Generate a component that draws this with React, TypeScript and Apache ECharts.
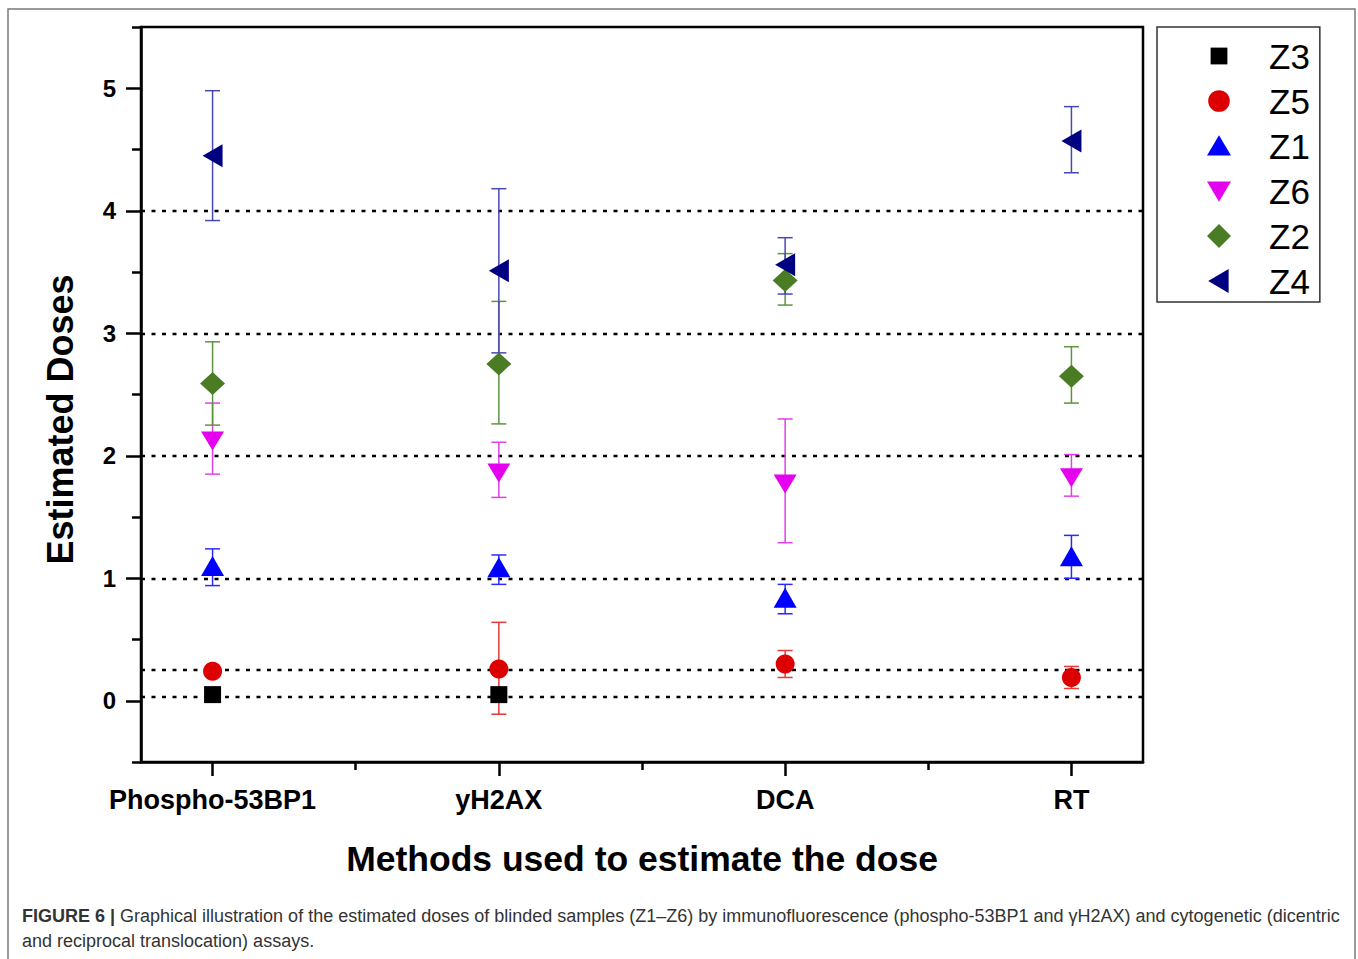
import React, { useEffect, useRef } from "react";
import * as echarts from "echarts";

const methods = ["Phospho-53BP1", "yH2AX", "DCA", "RT"];
const methodPositions = [1, 2, 3, 4];
const betweenPositions = [1.5, 2.5, 3.5];
const yMajorTicks = [0, 1, 2, 3, 4, 5];
const yMinorTicks = [-0.5, 0.5, 1.5, 2.5, 3.5, 4.5, 5.5];
const referenceDoses = [0.03, 0.25, 1, 2, 3, 4];

// Estimated doses per sample (per method), with error-bar bounds
const z3Dose = [0.05, 0.05, null, null];
const z3Low = [null, null, null, null];
const z3High = [null, null, null, null];

const z5Dose = [0.24, 0.26, 0.3, 0.19];
const z5Low = [null, -0.11, 0.19, 0.1];
const z5High = [null, 0.64, 0.41, 0.28];

const z1Dose = [1.1, 1.09, 0.84, 1.18];
const z1Low = [0.94, 0.95, 0.71, 1.0];
const z1High = [1.24, 1.19, 0.95, 1.35];

const z6Dose = [2.12, 1.86, 1.77, 1.82];
const z6Low = [1.85, 1.66, 1.29, 1.67];
const z6High = [2.43, 2.11, 2.3, 2.01];

const z2Dose = [2.59, 2.75, 3.43, 2.65];
const z2Low = [2.25, 2.26, 3.23, 2.43];
const z2High = [2.93, 3.26, 3.65, 2.89];

const z4Dose = [4.45, 3.51, 3.56, 4.57];
const z4Low = [3.92, 2.84, 3.32, 4.31];
const z4High = [4.98, 4.18, 3.78, 4.85];

const samples = [
  { name: "Z3", dose: z3Dose, low: z3Low, high: z3High, color: "#000000", bar: "#000000", symbol: "rect", size: [17, 17], rotate: 0,
    icon: "path://M0,0M20,20M3,3H17V17H3Z" },
  { name: "Z5", dose: z5Dose, low: z5Low, high: z5High, color: "#dd0000", bar: "#e23a3a", symbol: "circle", size: [19, 19], rotate: 0,
    icon: "path://M0,0M20,20M1,10A9,9,0,1,1,19,10A9,9,0,1,1,1,10Z" },
  { name: "Z1", dose: z1Dose, low: z1Low, high: z1High, color: "#0000ff", bar: "#2a2aff", symbol: "triangle", size: [23, 20], rotate: 0,
    icon: "path://M0,0M20,20M10,1L20,18L0,18Z" },
  { name: "Z6", dose: z6Dose, low: z6Low, high: z6High, color: "#e600f0", bar: "#e040e8", symbol: "triangle", size: [23, 19], rotate: 180,
    icon: "path://M0,0M20,20M0,2L20,2L10,19Z" },
  { name: "Z2", dose: z2Dose, low: z2Low, high: z2High, color: "#4a7d23", bar: "#5e9440", symbol: "diamond", size: [25, 23], rotate: 0,
    icon: "path://M10,0L20,10L10,20L0,10Z" },
  { name: "Z4", dose: z4Dose, low: z4Low, high: z4High, color: "#000080", bar: "#4848b4", symbol: "triangle", size: [23, 20], rotate: 90,
    icon: "path://M0,0M20,20M1,10L18,0L18,20Z" },
];

const FONT = "'Liberation Sans', Arial, Helvetica, sans-serif";

export default function App() {
  const ref = useRef<HTMLDivElement>(null);

  useEffect(() => {
    if (!ref.current) return;
    const chart = echarts.init(ref.current, undefined, { renderer: "svg" });

    const errorSeries: any[] = samples.map((s) => ({
      type: "custom",
      name: s.name + " err",
      z: 2,
      silent: true,
      encode: { x: 0, y: [1, 2] },
      data: methodPositions
        .map((x, i) => (s.low[i] != null && s.high[i] != null ? [x, s.low[i], s.high[i]] : null))
        .filter((d) => d != null),
      renderItem: (params: any, api: any) => {
        const x = api.value(0);
        const lo = api.coord([x, api.value(1)]);
        const hi = api.coord([x, api.value(2)]);
        const half = 7.5;
        const style = { stroke: s.bar, lineWidth: 1.5 };
        return {
          type: "group",
          children: [
            { type: "line", shape: { x1: lo[0], y1: lo[1], x2: hi[0], y2: hi[1] }, style },
            { type: "line", shape: { x1: lo[0] - half, y1: lo[1], x2: lo[0] + half, y2: lo[1] }, style },
            { type: "line", shape: { x1: hi[0] - half, y1: hi[1], x2: hi[0] + half, y2: hi[1] }, style },
          ],
        };
      },
    }));

    const pointSeries: any[] = samples.map((s, idx) => {
      const ser: any = {
        type: "scatter",
        name: s.name,
        z: 3,
        symbol: s.symbol,
        symbolSize: s.size,
        symbolRotate: s.rotate,
        itemStyle: { color: s.color, opacity: 1 },
        data: methodPositions
          .map((x, i) => (s.dose[i] != null ? [x, s.dose[i]] : null))
          .filter((d) => d != null),
      };
      if (idx === 0) {
        ser.markLine = {
          silent: true,
          symbol: ["none", "none"],
          label: { show: false },
          lineStyle: { color: "#000", type: [4, 6.5], width: 2.4 },
          data: referenceDoses.map((v) => ({ yAxis: v })),
          z: 1,
        };
      }
      return ser;
    });

    const option: any = {
      animation: false,
      backgroundColor: "#ffffff",
      textStyle: { fontFamily: FONT },
      grid: {
        left: 141,
        right: 215,
        top: 27,
        bottom: 197,
        show: true,
        borderColor: "#000",
        borderWidth: 2.5,
        backgroundColor: "transparent",
      },
      legend: {
        orient: "vertical",
        left: 1157,
        top: 27,
        padding: [9, 10, 1, 50],
        itemWidth: 90,
        itemHeight: 24,
        itemGap: 5,
        symbolKeepAspect: true,
        borderColor: "#333",
        borderWidth: 1.5,
        backgroundColor: "#fff",
        data: samples.map((s) => ({ name: s.name, icon: s.icon })),
        textStyle: { fontFamily: FONT, fontSize: 35, color: "#000", lineHeight: 40 },
      },
      xAxis: [
        {
          type: "value",
          min: 0.75,
          max: 4.25,
          position: "bottom",
          name: "Methods used to estimate the dose",
          nameLocation: "middle",
          nameGap: 79,
          nameTextStyle: { fontFamily: FONT, fontSize: 35.5, fontWeight: "bold", color: "#000" },
          axisLine: { show: true, onZero: false, lineStyle: { color: "#000", width: 2.5 } },
          axisTick: { show: true, customValues: methodPositions, length: 14, lineStyle: { color: "#000", width: 2.5 } },
          axisLabel: {
            show: true,
            customValues: methodPositions,
            formatter: (v: number) => methods[Math.round(v) - 1] ?? "",
            margin: 24,
            fontFamily: FONT,
            fontSize: 27,
            fontWeight: "bold",
            color: "#000",
          },
          splitLine: { show: false },
        },
        {
          type: "value",
          min: 0.75,
          max: 4.25,
          position: "bottom",
          axisLine: { show: false, onZero: false },
          axisTick: { show: true, customValues: betweenPositions, length: 8, lineStyle: { color: "#000", width: 2.5 } },
          axisLabel: { show: false },
          splitLine: { show: false },
        },
      ],
      yAxis: [
        {
          type: "value",
          min: -0.5,
          max: 5.5,
          position: "left",
          name: "Estimated Doses",
          nameLocation: "middle",
          nameGap: 63,
          nameTextStyle: { fontFamily: FONT, fontSize: 36, fontWeight: "bold", color: "#000", padding: [0, 50, 0, 0] },
          axisLine: { show: true, onZero: false, lineStyle: { color: "#000", width: 2.5 } },
          axisTick: { show: true, customValues: yMajorTicks, length: 15, lineStyle: { color: "#000", width: 2.5 } },
          axisLabel: {
            show: true,
            customValues: yMajorTicks,
            margin: 25,
            fontFamily: FONT,
            fontSize: 24,
            fontWeight: "bold",
            color: "#000",
          },
          splitLine: { show: false },
        },
        {
          type: "value",
          min: -0.5,
          max: 5.5,
          position: "left",
          axisLine: { show: false, onZero: false },
          axisTick: { show: true, customValues: yMinorTicks, length: 9, lineStyle: { color: "#000", width: 2.5 } },
          axisLabel: { show: false },
          splitLine: { show: false },
        },
      ],
      graphic: [
        {
          type: "rect",
          shape: { x: 8, y: 9, width: 1347, height: 970 },
          style: { fill: "none", stroke: "#7a7a7a", lineWidth: 1.5 },
          silent: true,
          z: -10,
        },
        {
          type: "text",
          x: 22,
          y: 916,
          style: {
            text: "{b|FIGURE 6 |} Graphical illustration of the estimated doses of blinded samples (Z1–Z6) by immunofluorescence (phospho-53BP1 and γH2AX) and cytogenetic (dicentric",
            fontFamily: FONT,
            fontSize: 18,
            fill: "#333",
            verticalAlign: "middle",
            rich: { b: { fontFamily: FONT, fontSize: 18, fontWeight: "bold", fill: "#333" } },
          },
        },
        {
          type: "text",
          x: 22,
          y: 941,
          style: {
            text: "and reciprocal translocation) assays.",
            fontFamily: FONT,
            fontSize: 18,
            fill: "#333",
            verticalAlign: "middle",
          },
        },
      ],
      series: [...errorSeries, ...pointSeries],
    };

    chart.setOption(option);
    return () => chart.dispose();
  }, []);

  return (
    <div
      ref={ref}
      style={{ position: "fixed", left: 0, top: 0, width: 1358, height: 959, background: "#fff" }}
    />
  );
}
